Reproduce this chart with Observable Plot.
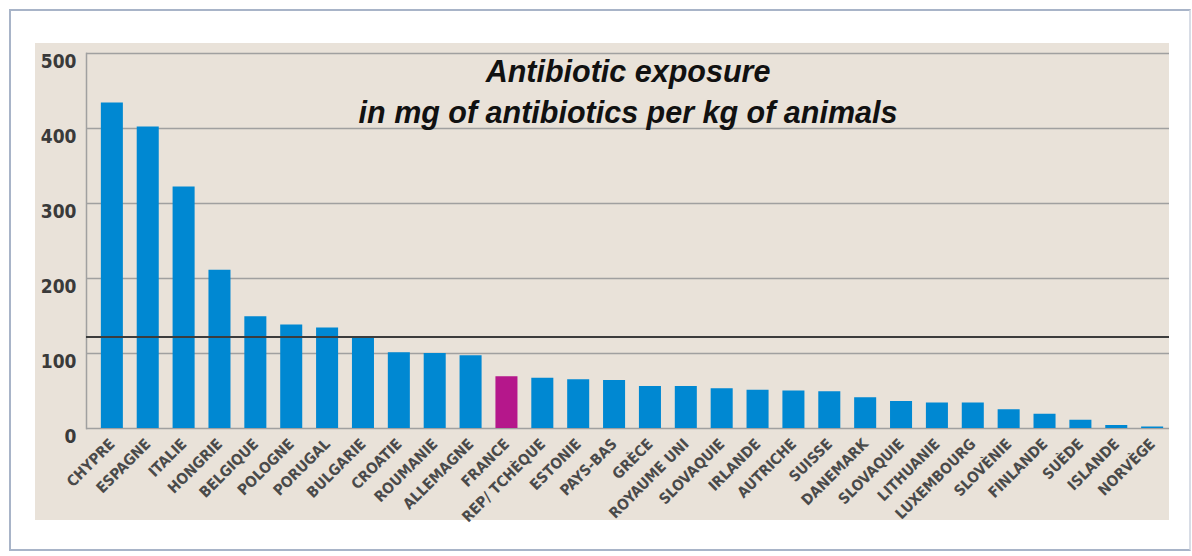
<!DOCTYPE html>
<html><head><meta charset="utf-8">
<script src="https://cdn.jsdelivr.net/npm/d3@7"></script>
<script src="https://cdn.jsdelivr.net/npm/@observablehq/plot@0.6"></script>
<style>
body{margin:0;background:#fff;width:1192px;height:556px;overflow:hidden;position:relative;font-family:"DejaVu Sans Condensed",sans-serif}
#border{position:absolute;left:9px;top:9px;width:1178px;height:538px;border:2px solid #a8b4c8;border-right-color:#d8dde6;}
#chart{position:absolute;left:35px;top:43px;}
</style></head><body><div id="border"></div><div id="chart"></div>
<script>
const countries = ["CHYPRE","ESPAGNE","ITALIE","HONGRIE","BELGIQUE","POLOGNE","PORUGAL","BULGARIE","CROATIE","ROUMANIE","ALLEMAGNE","FRANCE","REP/ TCHÈQUE","ESTONIE","PAYS-BAS","GRÈCE","ROYAUME UNI","SLOVAQUIE","IRLANDE","AUTRICHE","SUISSE","DANEMARK","SLOVAQUIE ","LITHUANIE","LUXEMBOURG","SLOVÈNIE","FINLANDE","SUÈDE","ISLANDE","NORVÈGE"];
const values = [434,402,322,211,149,138,134,122,101,100,97,69,67,65,64,56,56,53,51,50,49,41,36,34,34,25,19,11,4,2];
const highlight = "FRANCE";
const referenceLine = 122;
const yTicks = [0,100,200,300,400,500];
const titleLines = ["Antibiotic exposure","in mg of antibiotics per kg of animals"];
const data = countries.map((c,i)=>({country:c, value:values[i]}));
const chart = Plot.plot({
  width:1134, height:477, marginLeft:51, marginRight:0, marginTop:10, marginBottom:92,
  style:{background:"#e9e2d9", fontFamily:"DejaVu Sans Condensed", overflow:"visible"},
  x:{domain:countries, padding:0.386, round:false, insetLeft:1, insetRight:-8, label:null},
  y:{domain:[0,500], label:null},
  marks:[
    Plot.gridY(yTicks,{stroke:"#a0a0a0", strokeOpacity:1, strokeWidth:1.5}),
    Plot.frame({anchor:"left", stroke:"#a0a0a0", strokeWidth:1.5}),
    Plot.barY(data,{x:"country", y:"value", fill:d=>d.country===highlight?"#b5178b":"#0088d2"}),
    Plot.ruleY([referenceLine],{stroke:"#3c3c3c", strokeWidth:2}),
    Plot.axisY({ticks:yTicks, tickSize:0, tickPadding:10, fontSize:19, fontWeight:"bold", fill:"#3a3a3a", lineAnchor:"top", dy:1}),
    Plot.axisX({tickSize:0, tickPadding:13, tickRotate:-45, fontSize:15, fontWeight:"bold", fill:"#4a4a4a", dx:0, tickFormat:d=>d.trim()}),
    Plot.text([titleLines[0]],{frameAnchor:"top", text:d=>d, dy:28, lineAnchor:"bottom", fontSize:30.5, fontWeight:"bold", fontStyle:"italic", fontFamily:"Liberation Sans", fill:"#111"}),
    Plot.text([titleLines[1]],{frameAnchor:"top", text:d=>d, dy:69, lineAnchor:"bottom", fontSize:30.5, fontWeight:"bold", fontStyle:"italic", fontFamily:"Liberation Sans", fill:"#111"})
  ]
});
document.getElementById("chart").appendChild(chart);
</script></body></html>
